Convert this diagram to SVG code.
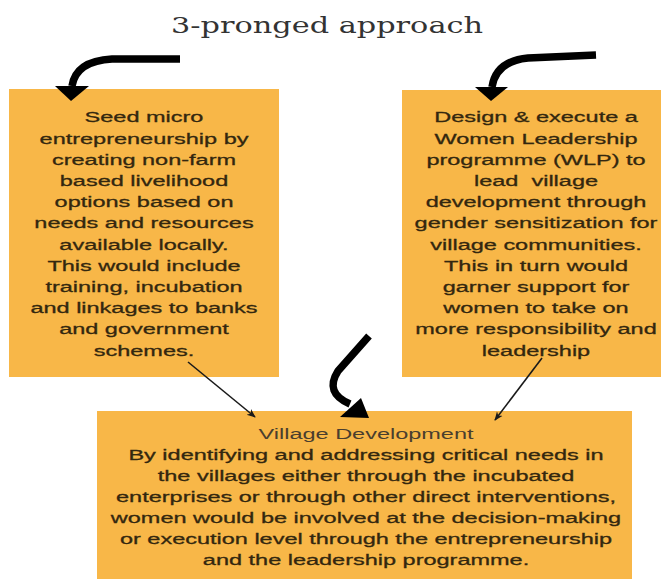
<svg xmlns="http://www.w3.org/2000/svg" width="664" height="579" viewBox="0 0 664 579">
  <defs>
    <style>
      .box { fill: #F8B748; }
      .t { font-family: "Liberation Sans", Arial, sans-serif; font-size: 15.5px; fill: #33270f; stroke: #33270f; stroke-width: 0.3; text-anchor: middle; }
      .tl { fill: #4a3e2e; stroke: none; }
      .title { font-family: "DejaVu Serif", "Liberation Serif", serif; font-size: 22px; fill: #333333; text-anchor: middle; }
      .thick { fill: none; stroke: #000000; stroke-width: 7.5; stroke-linecap: butt; stroke-linejoin: round; }
      .thin { fill: none; stroke: #1a1a1a; stroke-width: 1.6; }
      .head { fill: #000000; }
    </style>
    <marker id="ah" viewBox="0 0 10 10" refX="9" refY="5" markerWidth="9" markerHeight="9" orient="auto" markerUnits="userSpaceOnUse">
      <path d="M0,1 L10,5 L0,9 L3,5 Z" fill="#1a1a1a"/>
    </marker>
  </defs>
  <rect width="664" height="579" fill="#ffffff"/>

  <g id="title">
    <text class="title" x="327" y="33" textLength="312" lengthAdjust="spacingAndGlyphs">3-pronged approach</text>
  </g>

  <g id="node-seed">
    <rect class="box" x="9" y="89" width="270" height="288"/>
    <g transform="translate(144 0) scale(1.516 1)">
      <text class="t" x="0" y="122.5">Seed micro</text>
      <text class="t" x="0" y="143.7">entrepreneurship by</text>
      <text class="t" x="0" y="164.9">creating non-farm</text>
      <text class="t" x="0" y="186.1">based livelihood</text>
      <text class="t" x="0" y="207.3">options based on</text>
      <text class="t" x="0" y="228.5">needs and resources</text>
      <text class="t" x="0" y="249.7">available locally.</text>
      <text class="t" x="0" y="270.9">This would include</text>
      <text class="t" x="0" y="292.1">training, incubation</text>
      <text class="t" x="0" y="313.3">and linkages to banks</text>
      <text class="t" x="0" y="334.5">and government</text>
      <text class="t" x="0" y="355.7">schemes.</text>
    </g>
  </g>

  <g id="node-wlp">
    <rect class="box" x="402" y="90" width="259" height="287"/>
    <g transform="translate(536 0) scale(1.516 1)">
      <text class="t" x="0" y="122.5">Design &amp; execute a</text>
      <text class="t" x="0" y="143.7">Women Leadership</text>
      <text class="t" x="0" y="164.9">programme (WLP) to</text>
      <text class="t" x="0" y="186.1" xml:space="preserve">lead  village</text>
      <text class="t" x="0" y="207.3">development through</text>
      <text class="t" x="0" y="228.5">gender sensitization for</text>
      <text class="t" x="0" y="249.7">village communities.</text>
      <text class="t" x="0" y="270.9">This in turn would</text>
      <text class="t" x="0" y="292.1">garner support for</text>
      <text class="t" x="0" y="313.3">women to take on</text>
      <text class="t" x="0" y="334.5">more responsibility and</text>
      <text class="t" x="0" y="355.7">leadership</text>
    </g>
  </g>

  <g id="node-village">
    <rect class="box" x="97" y="411" width="535" height="168"/>
    <g transform="translate(366 0) scale(1.516 1)">
      <text class="t tl" x="0" y="439.3">Village Development</text>
      <text class="t" x="0" y="460.3">By identifying and addressing critical needs in</text>
      <text class="t" x="0" y="481.3">the villages either through the incubated</text>
      <text class="t" x="0" y="502.3">enterprises or through other direct interventions,</text>
      <text class="t" x="0" y="523.3">women would be involved at the decision-making</text>
      <text class="t" x="0" y="544.3">or execution level through the entrepreneurship</text>
      <text class="t" x="0" y="565.3">and the leadership programme.</text>
    </g>
  </g>

  <g id="connectors">
    <path class="thick" d="M180,59 L112,59 Q76,61 72,86"/>
    <polygon class="head" points="55,86 89,86 71,101"/>
    <path class="thick" d="M596,55 L528,58 Q496,61 492,87"/>
    <polygon class="head" points="475,87 508,87 491,101"/>
    <path class="thick" d="M369,336 L338,371 Q324,393 350,404"/>
    <polygon class="head" points="340,417 369,418 361,398"/>
    <path class="thin" d="M188,362 L255,417" marker-end="url(#ah)"/>
    <path class="thin" d="M542,358 L495,420" marker-end="url(#ah)"/>
  </g>
</svg>
